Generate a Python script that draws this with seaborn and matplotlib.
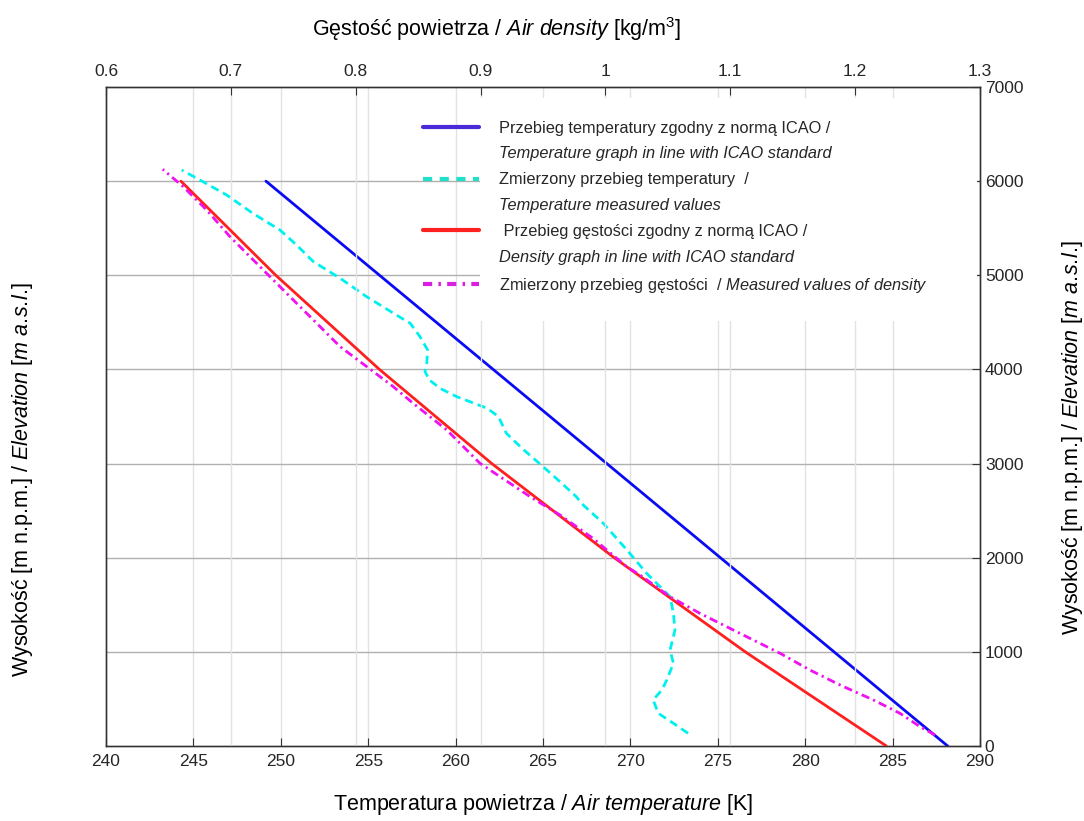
import matplotlib
matplotlib.use("Agg")
import matplotlib.pyplot as plt
import seaborn as sns
import numpy as np
import pandas as pd
from matplotlib.lines import Line2D
from matplotlib.patches import Rectangle

# ---------------- data ----------------
icao_h = [0, 1000, 2000, 3000, 4000, 5000, 6000]
icao_temp = [288.15, 281.65, 275.15, 268.65, 262.15, 255.65, 249.15]
icao_rho = [1.225, 1.112, 1.007, 0.909, 0.819, 0.736, 0.660]

meas_temp_h = [135, 241, 347, 489, 595, 701, 878, 1020, 1232, 1409, 1586, 1834, 2082,
               2365, 2560, 2649, 2791, 2968, 3145, 3322, 3499, 3588, 3711, 3800, 3888,
               3977, 4066, 4207, 4349, 4491, 4579, 4774, 4968, 5145, 5322, 5481, 5658,
               5853, 6030, 6118]
meas_temp = [273.3, 272.46, 271.6, 271.3, 271.8, 272.08, 272.46, 272.27, 272.55, 272.46,
             272.27, 270.93, 269.8, 268.45, 267.3, 266.9, 266.07, 265.0, 263.9, 262.9,
             262.45, 261.8, 260.06, 259.1, 258.5, 258.25, 258.35, 258.4, 257.96, 257.4,
             256.6, 254.9, 253.4, 251.86, 250.9, 249.95, 248.4, 246.9, 245.2, 244.33]

meas_rho_h = [117, 205, 347, 489, 648, 807, 984, 1143, 1303, 1409, 1586, 1816, 1905, 2206,
              2454, 2649, 3003, 3357, 3640, 3818, 4030, 4243, 4491, 4738, 4950, 5198,
              5410, 5694, 5941, 6126]
meas_rho = [1.264, 1.252, 1.2359, 1.2146, 1.1879, 1.1638, 1.140, 1.1158, 1.0917, 1.0757,
            1.0517, 1.0277, 1.017, 0.990, 0.9636, 0.9396, 0.8995, 0.8729, 0.846, 0.830,
            0.8088, 0.7874, 0.7687, 0.750, 0.734, 0.7153, 0.6993, 0.6806, 0.6619, 0.6454]

temp_ticks = [240, 245, 250, 255, 260, 265, 270, 275, 280, 285, 290]
rho_ticks = [0.6, 0.7, 0.8, 0.9, 1.0, 1.1, 1.2, 1.3]
rho_tick_labels = ["0.6", "0.7", "0.8", "0.9", "1", "1.1", "1.2", "1.3"]
h_ticks = [0, 1000, 2000, 3000, 4000, 5000, 6000, 7000]

legend_labels = [
    "Przebieg temperatury zgodny z normą ICAO /",
    "Temperature graph in line with ICAO standard",
    "Zmierzony przebieg temperatury  /",
    "Temperature measured values",
    " Przebieg gęstości zgodny z normą ICAO /",
    "Density graph in line with ICAO standard",
    r"Zmierzony przebieg gęstości  / $\mathit{Measured\ values\ of\ density}$",
]

y_label = r"Wysokość [m n.p.m.] / $\mathit{Elevation\ [m\ a.\!s.\!l.\!]}$"

# ---------------- style ----------------
sns.set_style("white")
FONT = ["Liberation Sans", "DejaVu Sans"]
plt.rcParams["font.family"] = FONT
plt.rcParams["mathtext.fontset"] = "custom"
plt.rcParams["mathtext.rm"] = "Liberation Sans"
plt.rcParams["mathtext.it"] = "Liberation Sans:italic"
plt.rcParams["mathtext.bf"] = "Liberation Sans:bold"

C_BLUE = "#0a0af5"
C_CYAN = "#00f0f0"
C_RED = "#ff1f1f"
C_MAG = "#f010f0"
TXT = "#262626"
LAB = 15.5

fig = plt.figure(figsize=(10.84, 8.21), dpi=100)
ax = fig.add_axes([106 / 1084, 75 / 821, 874 / 1084, 659 / 821])

df_icao = pd.DataFrame({"h": icao_h, "T": icao_temp, "rho": icao_rho})
df_mt = pd.DataFrame({"h": meas_temp_h, "T": meas_temp})
df_mr = pd.DataFrame({"h": meas_rho_h, "rho": meas_rho})

sns.lineplot(data=df_icao, x="T", y="h", sort=False, estimator=None, ax=ax,
             color=C_BLUE, lw=2.0, zorder=5)
sns.lineplot(data=df_mt, x="T", y="h", sort=False, estimator=None, ax=ax,
             color=C_CYAN, lw=2.0, zorder=5, linestyle=(0, (3.0, 1.8)))

ax.set_xlim(240, 290)
ax.set_ylim(0, 7000)
ax.set_xticks(temp_ticks)
ax.set_yticks(h_ticks)
ax.set_xticklabels([str(t) for t in temp_ticks], fontsize=12.5, color=TXT)
ax.set_yticklabels([str(t) for t in h_ticks], fontsize=12.5, color=TXT)
ax.tick_params(axis="both", direction="in", length=6, width=0.8, colors="#333333",
               labelcolor=TXT)
ax.tick_params(axis="x", pad=6)
ax.set_xlabel(r"Temperatura powietrza / $\mathit{Air\ temperature}$ [K]", fontsize=LAB,
              color="black", labelpad=16)
ax.set_ylabel(y_label, fontsize=LAB, color="black")
ax.yaxis.set_label_coords(-0.081, 0.404)

# right axis
axr = ax.twinx()
axr.set_ylim(0, 7000)
axr.set_yticks(h_ticks)
axr.set_yticklabels([str(t) for t in h_ticks], fontsize=12.5, color=TXT)
axr.tick_params(axis="y", direction="in", length=6, width=0.8, colors="#333333",
                labelcolor=TXT)
axr.set_ylabel(y_label, fontsize=LAB, color="black", rotation=90)
axr.yaxis.set_label_coords(1.092, 0.469)

# top axis (density)
axt = ax.twiny()
sns.lineplot(data=df_icao, x="rho", y="h", sort=False, estimator=None, ax=axt,
             color=C_RED, lw=2.0, zorder=5)
sns.lineplot(data=df_mr, x="rho", y="h", sort=False, estimator=None, ax=axt,
             color=C_MAG, lw=2.0, zorder=5, linestyle=(0, (3.0, 1.5, 0.8, 1.5)))
axt.set_xlim(0.6, 1.3)
axt.set_ylim(0, 7000)
axt.set_xticks(rho_ticks)
axt.set_xticklabels(rho_tick_labels, fontsize=12.5, color=TXT)
axt.tick_params(axis="x", direction="in", length=6, width=0.8, colors="#333333",
                labelcolor=TXT, pad=6)
axt.set_xlabel(r"Gęstość powietrza / $\mathit{Air\ density}$ [kg/m$^3$]", fontsize=LAB,
               color="black")
axt.xaxis.set_label_coords(0.447, 1.078)
axt.set_yticks([])

# grids
for t in temp_ticks[1:-1]:
    ax.axvline(t, color="#e2e2e2", lw=1.0, zorder=0)
for r in rho_ticks[1:-1]:
    axt.axvline(r, color="#e2e2e2", lw=1.0, zorder=0)
for hh in h_ticks[1:-1]:
    ax.axhline(hh, color="#b0b0b0", lw=1.0, zorder=0.5)

for a in (ax, axr, axt):
    for s in a.spines.values():
        s.set_color("#333333")
        s.set_linewidth(0.9)
    a.set_facecolor("none")

# legend background (white box hiding the grid)
axt.add_patch(Rectangle((0.428, 0.645), 0.568, 0.338, transform=axt.transAxes,
                        facecolor="white", edgecolor="none", zorder=1))

handles = [
    Line2D([], [], color="#4a2ad8", lw=3),
    Line2D([], [], color="none"),
    Line2D([], [], color="#20e0c8", lw=3, linestyle=(0, (2.2, 1.8))),
    Line2D([], [], color="none"),
    Line2D([], [], color="#ff2020", lw=3),
    Line2D([], [], color="none"),
    Line2D([], [], color="#d820e0", lw=3, linestyle=(0, (2.2, 1.5, 0.6, 1.5))),
]
leg = axt.legend(handles, legend_labels, loc="upper left", bbox_to_anchor=(0.363, 0.949),
                 frameon=False, fontsize=11.8, handlelength=3.4, handletextpad=1.2,
                 labelspacing=0.66, borderpad=0, borderaxespad=0)
leg.set_zorder(10)
for i in (1, 3, 5):
    leg.get_texts()[i].set_fontstyle("italic")

fig.savefig("out.png", dpi=100, facecolor="white")
